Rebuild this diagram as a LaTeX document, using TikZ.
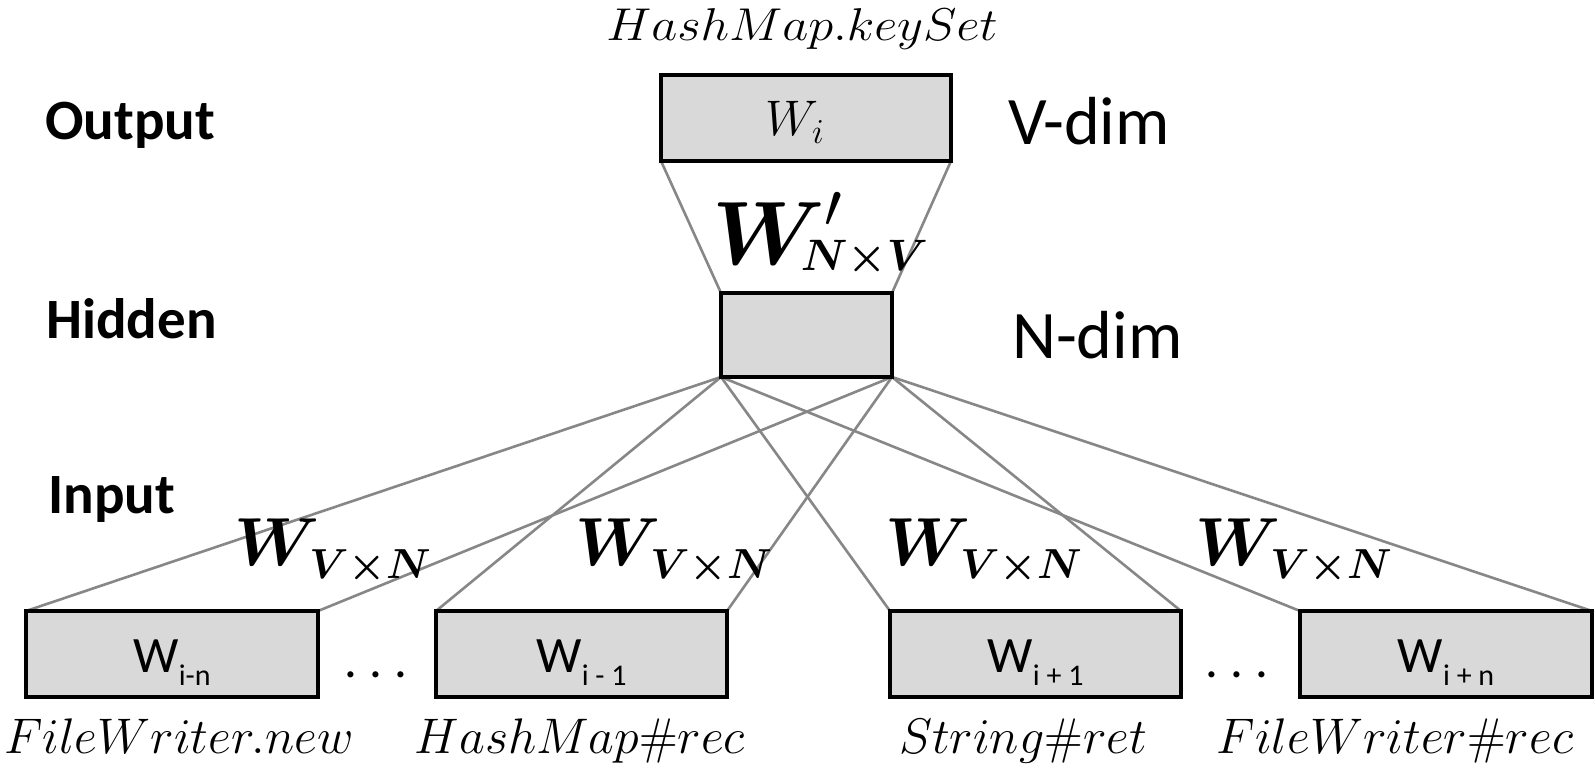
\RequirePackage{fix-cm}
\documentclass[tikz,border=0pt]{standalone}
\usepackage{amsmath}
\usepackage{graphicx}
\usepackage{fontspec}
\newfontfamily\calibri{Carlito}
\definecolor{boxgray}{HTML}{D9D9D9}
\definecolor{linkgray}{HTML}{878787}
\pgfdeclarelayer{canvas}
\pgfdeclarelayer{bg}
\pgfsetlayers{canvas,bg,main}
\tikzset{
  layerbox/.style={draw=black, line width=3.2pt, fill=boxgray, inner sep=0pt, outer sep=0pt, anchor=center},
  link/.style={draw=linkgray, line width=2.6pt},
  rowlabel/.style={font=\calibri\bfseries\fontsize{57}{68}\selectfont, inner sep=0pt, anchor=base west},
  dimlabel/.style={font=\calibri\fontsize{68}{80}\selectfont, inner sep=0pt, anchor=base west},
  wordlabel/.style={font=\fontsize{50}{60}\selectfont, inner sep=0pt, anchor=base},
  celltext/.style={font=\calibri\fontsize{51}{60}\selectfont, inner sep=0pt, anchor=base},
  weightlabel/.style={inner sep=0pt, anchor=base west}
}
\newcommand\ctxsub[1]{\raisebox{-13pt}{\fontsize{30}{36}\selectfont #1}}
% bold weight matrix W with a lowered bold subscript
\newcommand\wmat[1]{{\fontsize{68}{80}\selectfont$\boldsymbol{W}$}\hspace{-10pt}\raisebox{-13pt}{\fontsize{42}{52}\selectfont$\boldsymbol{#1}$}}
\begin{document}
\begin{tikzpicture}[x=1pt, y=-1pt]
  \begin{pgfonlayer}{canvas}
    \fill[white] (0,0) rectangle (1595,767);
  \end{pgfonlayer}
  \useasboundingbox (0,0) rectangle (1595,767);

  % layer boxes
  \node[layerbox, minimum width=290pt, minimum height=86pt] (out) at (806,118) {};
  \node[layerbox, minimum width=171pt, minimum height=84pt] (hid) at (806.5,335) {};
  \node[layerbox, minimum width=292pt, minimum height=86pt] (in1) at (172,654) {};
  \node[layerbox, minimum width=291pt, minimum height=86pt] (in2) at (581.5,654) {};
  \node[layerbox, minimum width=291pt, minimum height=86pt] (in3) at (1035.5,654) {};
  \node[layerbox, minimum width=292pt, minimum height=86pt] (in4) at (1446,654) {};

  % connections
  \begin{pgfonlayer}{bg}
    \draw[link] (out.south west) -- (hid.north west);
    \draw[link] (out.south east) -- (hid.north east);
    \foreach \b in {in1,in2,in3,in4} {
      \draw[link] (hid.south west) -- (\b.north west);
      \draw[link] (hid.south east) -- (\b.north east);
    }
  \end{pgfonlayer}

  % row labels
  \node[rowlabel] (lout) at (45,140) {Output};
  \node[rowlabel] (lhid) at (46,338) {Hidden};
  \node[rowlabel] (lin) at (48,513) {Input};

  % dimensions
  \node[dimlabel] (vdim) at (1008,145) {V-dim};
  \node[dimlabel] (ndim) at (1012,358) {N-dim};

  % output word
  \node[wordlabel, font=\fontsize{46}{56}\selectfont] (target) at (802,41) {\scalebox{1.1}[1]{$HashMap.keySet$}};
  \node[wordlabel] (wi) at (795,136) {$W_i$};

  % weight matrices
  \node[inner sep=0pt, anchor=base west] (wout) at (712,265)
    {{\fontsize{90}{100}\selectfont$\boldsymbol{W}'$}\hspace{-42pt}\raisebox{-6pt}{\fontsize{44}{54}\selectfont$\boldsymbol{N{\times}V}$}};
  \node[weightlabel] (w1) at (234,565) {\wmat{V{\times}N}};
  \node[weightlabel] (w2) at (575,565) {\wmat{V{\times}N}};
  \node[weightlabel] (w3) at (885,565) {\wmat{V{\times}N}};
  \node[weightlabel] (w4) at (1195,565) {\wmat{V{\times}N}};

  % context cells
  \node[celltext] (c1) at (172,672) {W\ctxsub{i-n}};
  \node[celltext] (c2) at (581.5,672) {W\ctxsub{i - 1}};
  \node[celltext] (c3) at (1035.5,672) {W\ctxsub{i + 1}};
  \node[celltext] (c4) at (1446,672) {W\ctxsub{i + n}};
  \node[celltext] (dots1) at (376,677) {.\hspace{12pt}.\hspace{12pt}.};
  \node[celltext] (dots2) at (1237,677) {.\hspace{12pt}.\hspace{12pt}.};

  % context words
  \node[wordlabel] (x1) at (179,753) {$FileWriter.new$};
  \node[wordlabel] (x2) at (580,753) {$HashMap\#rec$};
  \node[wordlabel] (x3) at (1023,753) {$String\#ret$};
  \node[wordlabel] (x4) at (1395,753) {$FileWriter\#rec$};
\end{tikzpicture}
\end{document}
